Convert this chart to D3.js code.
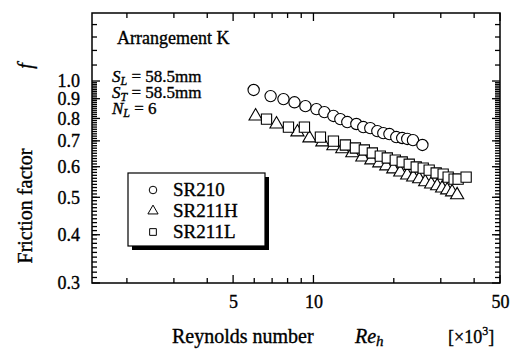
<!DOCTYPE html>
<html>
<head>
<meta charset="utf-8">
<script src="https://cdn.jsdelivr.net/npm/d3@7"></script>
<style>
  body { margin: 0; background: #fff; }
  text { font-family: "Liberation Serif", "DejaVu Serif", serif; fill: #000; stroke: #000; stroke-width: 0.35; }
</style>
</head>
<body>
<script>
const w = 510
const h = 349
const plotLeft = 92, plotRight = 500, plotTop = 13, plotBottom = 283

// Reynolds number [x10^3] and friction factor f
const reSR210 = [5.97, 6.91, 7.72, 8.49, 9.33, 10.26, 10.99, 11.88, 12.61, 13.39, 14.48,
                 15.37, 16.33, 17.35, 18.27, 19.26, 20.43, 21.5, 22.46, 23.6, 25.6]
const fSR210 = [0.948, 0.914, 0.898, 0.881, 0.861, 0.846, 0.831, 0.812, 0.797, 0.783, 0.774,
                0.760, 0.755, 0.742, 0.733, 0.729, 0.716, 0.712, 0.708, 0.703, 0.683]

const reSR211H = [6.07, 7.27, 8.71, 9.66, 10.8, 11.88, 12.83, 13.99, 15.25, 16.48, 17.65, 18.75,
                  19.91, 21.15, 22.46, 23.65, 24.9, 26.23, 27.61, 29.08, 30.35, 31.7, 33.08, 34.54]
const fSR211H = [0.816, 0.778, 0.742, 0.716, 0.699, 0.683, 0.671, 0.655, 0.639, 0.628, 0.617, 0.606,
                 0.595, 0.584, 0.574, 0.567, 0.561, 0.551, 0.544, 0.538, 0.531, 0.525, 0.519, 0.510]

const reSR211L = [6.67, 8.06, 9.25, 10.62, 11.88, 13.17, 14.36, 15.51, 16.62, 17.8, 18.91, 20.26,
                  21.51, 22.85, 24.27, 25.78, 27.14, 28.83, 30.62, 31.97, 33.66, 34.84, 37.33]
const fSR211L = [0.797, 0.760, 0.760, 0.716, 0.699, 0.683, 0.671, 0.663, 0.651, 0.639, 0.632, 0.624,
                 0.617, 0.609, 0.599, 0.595, 0.588, 0.578, 0.574, 0.564, 0.557, 0.557, 0.564]

const xMajor = [5, 10, 50]
const xMinor = [2, 3, 4, 6, 7, 8, 9, 20, 30, 40]
const yMajor = [0.3, 0.4, 0.5, 0.6, 0.7, 0.8, 0.9, 1.0]
const yMinor = d3.range(31, 100).map(d => d / 100).concat([1.1, 1.2, 1.3, 1.4])

const seriesNames = ['SR210', 'SR211H', 'SR211L']
const seriesShapes = [d3.symbolCircle, d3.symbolTriangle, d3.symbolSquare]

const xScale = d3.scaleLog().domain([1.48, 50]).range([plotLeft, plotRight])
const yScale = d3.scaleLog().domain([0.3, 1.5]).range([plotBottom, plotTop])

const svg = d3.select('body').append('svg')
    .attr('width', w)
    .attr('height', h)

function styleAxis (g) {
    g.select('.domain').remove()
    g.selectAll('line').remove()
    g.selectAll('text').attr('font-size', 18).style('font-family', '"Liberation Serif", serif')
}

// tick labels from the axes
svg.append('g').attr('transform', `translate(0,${plotBottom})`)
    .call(d3.axisBottom(xScale).tickValues(xMajor).tickSize(0).tickPadding(12).tickFormat(d3.format('d')))
    .call(styleAxis)
svg.append('g').attr('transform', `translate(${plotLeft},0)`)
    .call(d3.axisLeft(yScale).tickValues(yMajor).tickSize(0).tickPadding(12).tickFormat(d3.format('.1f')))
    .call(styleAxis)

// inward tick marks on all four sides
const tickLayer = svg.append('g').attr('stroke', '#000').attr('stroke-width', 1.3)

function xTicks (vals, len) {
    tickLayer.append('g').selectAll('line').data(vals).enter().append('line')
        .attr('x1', d => xScale(d)).attr('x2', d => xScale(d))
        .attr('y1', plotBottom).attr('y2', plotBottom - len)
    tickLayer.append('g').selectAll('line').data(vals).enter().append('line')
        .attr('x1', d => xScale(d)).attr('x2', d => xScale(d))
        .attr('y1', plotTop).attr('y2', plotTop + len)
}
function yTicks (vals, len) {
    tickLayer.append('g').selectAll('line').data(vals).enter().append('line')
        .attr('y1', d => yScale(d)).attr('y2', d => yScale(d))
        .attr('x1', plotLeft).attr('x2', plotLeft + len)
    tickLayer.append('g').selectAll('line').data(vals).enter().append('line')
        .attr('y1', d => yScale(d)).attr('y2', d => yScale(d))
        .attr('x1', plotRight).attr('x2', plotRight - len)
}
xTicks(xMajor, 8)
xTicks(xMinor, 5)
yTicks(yMajor, 8)
yTicks(yMinor, 5)

// frame
svg.append('rect')
    .attr('x', plotLeft).attr('y', plotTop)
    .attr('width', plotRight - plotLeft).attr('height', plotBottom - plotTop)
    .attr('fill', 'none').attr('stroke', '#000').attr('stroke-width', 1.5)

// data
const sets = [
    {re: reSR210, f: fSR210},
    {re: reSR211H, f: fSR211H},
    {re: reSR211L, f: fSR211L}
]
const markSize = [100, 75, 105]

sets.forEach(function (s, i) {
    svg.append('g').selectAll('path')
        .data(s.re.map((r, j) => [r, s.f[j]]))
        .enter()
        .append('path')
        .attr('d', d3.symbol().type(seriesShapes[i]).size(markSize[i]))
        .attr('transform', d => `translate(${xScale(d[0])},${yScale(d[1]) + (i === 1 ? 1 : 0)})`)
        .attr('fill', '#fff')
        .attr('stroke', '#000')
        .attr('stroke-width', 1.1)
})

// legend
const lg = svg.append('g').attr('transform', 'translate(128,173)')
lg.append('rect').attr('x', 4).attr('y', 4).attr('width', 137).attr('height', 73).attr('fill', '#000')
lg.append('rect').attr('x', 0).attr('y', 0).attr('width', 137).attr('height', 73)
    .attr('fill', '#fff').attr('stroke', '#000').attr('stroke-width', 1.2)
seriesNames.forEach(function (name, i) {
    const row = lg.append('g').attr('transform', `translate(0,${17 + i * 21})`)
    row.append('path')
        .attr('d', d3.symbol().type(seriesShapes[i]).size(45))
        .attr('transform', `translate(25,0)`)
        .attr('fill', '#fff').attr('stroke', '#000').attr('stroke-width', 1)
    row.append('text').attr('x', 45).attr('y', 6).attr('font-size', 19).text(name)
})

// annotations
svg.append('text').attr('x', 117).attr('y', 44).attr('font-size', 18).text('Arrangement K')

function param (y, sym, sub, rest) {
    const t = svg.append('text').attr('x', 112).attr('y', y).attr('font-size', 17)
    t.append('tspan').attr('font-style', 'italic').text(sym)
    t.append('tspan').attr('font-style', 'italic').attr('font-size', 12).attr('dy', 3).text(sub)
    t.append('tspan').attr('dy', -3).text(rest)
}
param(82, 'S', 'L', ' = 58.5mm')
param(98, 'S', 'T', ' = 58.5mm')
param(114, 'N', 'L', ' = 6')

// axis titles
svg.append('text').attr('x', 172).attr('y', 343).attr('font-size', 20).text('Reynolds number')
const reh = svg.append('text').attr('x', 355).attr('y', 343).attr('font-size', 20).attr('font-style', 'italic')
reh.append('tspan').text('Re')
reh.append('tspan').attr('font-size', 15).attr('dy', 3).text('h')
const unit = svg.append('text').attr('x', 448).attr('y', 343).attr('font-size', 18)
unit.append('tspan').text('[×10')
unit.append('tspan').attr('font-size', 12).attr('dy', -8).text('3')
unit.append('tspan').attr('dy', 8).text(']')

svg.append('text')
    .attr('transform', 'translate(32,206) rotate(-90)')
    .attr('text-anchor', 'middle')
    .attr('font-size', 20)
    .text('Friction factor')
svg.append('text')
    .attr('transform', 'translate(32,66) rotate(-90)')
    .attr('text-anchor', 'middle')
    .attr('font-size', 20)
    .attr('font-style', 'italic')
    .text('f')
</script>
</body>
</html>
